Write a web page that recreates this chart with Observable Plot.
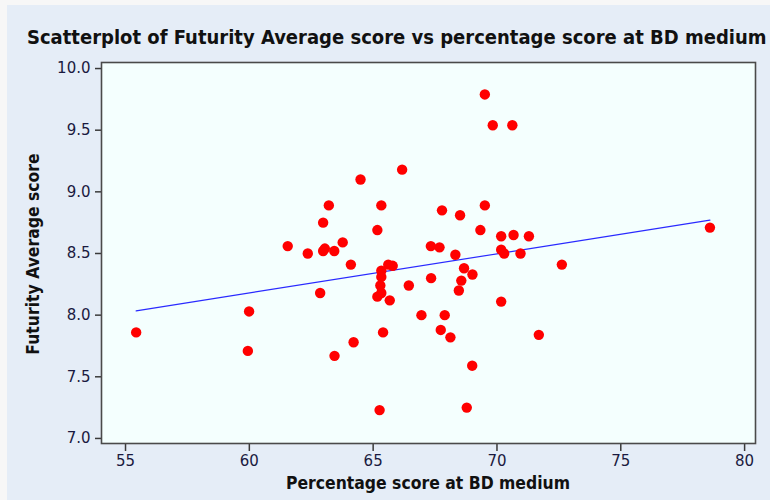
<!DOCTYPE html>
<html>
<head>
<meta charset="utf-8">
<script src="https://cdn.jsdelivr.net/npm/d3@7"></script>
<script src="https://cdn.jsdelivr.net/npm/@observablehq/plot@0.6"></script>
<style>
  html, body { margin: 0; padding: 0; background: #f7f7f7; }
  #wrap { position: relative; width: 770px; height: 500px; overflow: hidden; }
  #panel { position: absolute; left: 7px; top: 5px; width: 763px; height: 495px; background: #e5edf7; }
  #chart { position: absolute; left: 0; top: 0; }
  .ttl { position: absolute; font-family: "DejaVu Sans Condensed", "DejaVu Sans", sans-serif; font-weight: bold; color: #111; white-space: nowrap; }
  #title { left: 27px; top: 25px; font-size: 20px; }
  #xlabel { left: 428px; top: 473px; font-size: 17.4px; transform: translateX(-50%); }
  #ylabel { left: 33px; top: 254px; font-size: 17.4px; transform: translate(-50%, -50%) rotate(-90deg); }
</style>
</head>
<body>
<div id="wrap">
  <div id="panel"></div>
  <div id="chart"></div>
  <div class="ttl" id="title">Scatterplot of Futurity Average score vs percentage score at BD medium</div>
  <div class="ttl" id="xlabel">Percentage score at BD medium</div>
  <div class="ttl" id="ylabel">Futurity Average score</div>
</div>
<script>
// Percentage score at BD medium (x) and Futurity Average score (y)
const pctScore = [
  55.43, 59.99, 59.94, 61.55, 62.36, 62.86, 62.98, 62.98, 63.05, 63.21,
  63.43, 63.44, 63.77, 64.10, 64.21, 64.49, 65.17, 65.33, 65.17, 65.33,
  65.29, 65.33, 65.33, 65.61, 65.79, 65.67, 65.40, 65.26, 66.17, 66.44,
  66.95, 67.34, 67.33, 67.68, 67.78, 67.89, 67.73, 68.12, 68.32, 68.46,
  68.51, 68.56, 68.67, 69.01, 69.00, 68.78, 69.33, 69.51, 69.51, 69.83,
  70.62, 70.17, 70.67, 71.29, 70.17, 70.29, 70.95, 70.17, 71.69, 72.62,
  78.60
];
const futurityAvg = [
  7.86, 8.03, 7.71, 8.56, 8.50, 8.18, 8.75, 8.52, 8.54, 8.89,
  8.52, 7.67, 8.59, 8.41, 7.78, 9.10, 8.69, 8.89, 8.15, 8.18,
  8.24, 8.31, 8.36, 8.41, 8.40, 8.12, 7.86, 7.23, 9.18, 8.24,
  8.00, 8.30, 8.56, 8.55, 8.85, 8.00, 7.88, 7.82, 8.49, 8.20,
  8.81, 8.28, 8.38, 8.33, 7.59, 7.25, 8.69, 8.89, 9.79, 9.54,
  9.54, 8.64, 8.65, 8.64, 8.53, 8.50, 8.50, 8.11, 7.84, 8.41,
  8.71
];
// Fitted line end points
const fitX = [55.43, 78.60];
const fitY = [8.035, 8.77];
const xTicks = [55, 60, 65, 70, 75, 80];
const yTicks = [7.0, 7.5, 8.0, 8.5, 9.0, 9.5, 10.0];

const points = pctScore.map((x, i) => ({x, y: futurityAvg[i]}));
const fit = fitX.map((x, i) => ({x, y: fitY[i]}));

const chart = Plot.plot({
  width: 770,
  height: 500,
  marginLeft: 101,
  marginRight: 15,
  marginTop: 62,
  marginBottom: 57,
  style: {background: "transparent", fontFamily: "DejaVu Sans, sans-serif", fontSize: "15px"},
  x: {domain: [54.03, 80.44]},
  y: {domain: [6.959, 10.049]},
  marks: [
    Plot.frame({fill: "#f4fffe", stroke: null}),
    Plot.axisX({ticks: xTicks, tickSize: 8, tickPadding: 4, label: null, stroke: "#3a3a3a", strokeWidth: 1.5, fill: "#1a1a40", fontSize: 15}),
    Plot.axisY({ticks: yTicks, tickSize: 6, tickPadding: 5, tickFormat: d3.format(".1f"), label: null, stroke: "#3a3a3a", strokeWidth: 1.5, fill: "#1a1a40", fontSize: 15}),
    Plot.line(fit, {x: "x", y: "y", stroke: "#2a2aff", strokeWidth: 1.2}),
    Plot.dot(points, {x: "x", y: "y", r: 5.2, fill: "#ff0000", stroke: null}),
    Plot.frame({stroke: "#4a4a4a", strokeWidth: 1.6})
  ]
});
document.getElementById("chart").appendChild(chart);
</script>
</body>
</html>
